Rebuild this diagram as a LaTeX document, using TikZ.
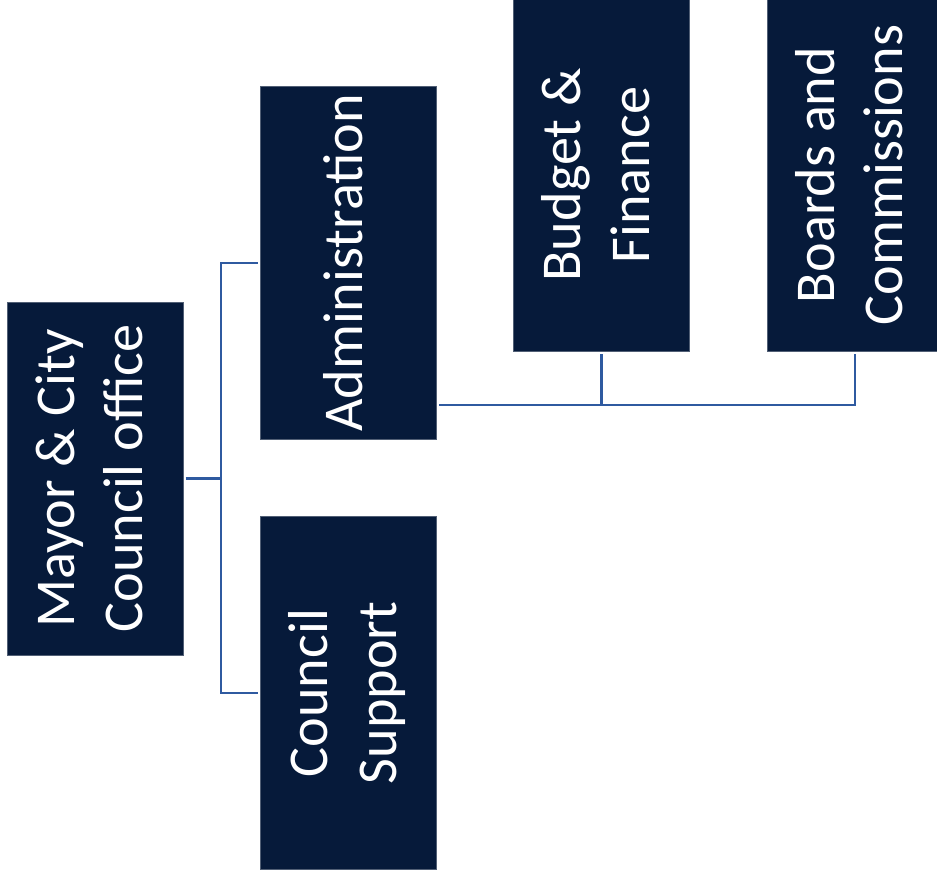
\documentclass[tikz,border=0pt]{standalone}
\usepackage{fontspec}
\setmainfont{Carlito}
\usepackage{tikz}
\definecolor{navy}{RGB}{6,26,58}
\definecolor{linkblue}{RGB}{47,90,160}
\tikzset{
  box/.style={fill=navy, draw=navy!70!white, line width=0.3pt, text=white,
    inner sep=0pt, outer sep=1.5pt, minimum width=3.52cm, minimum height=7.06cm},
  link/.style={draw=linkblue, line width=1.2pt}
}
\newcommand{\vtext}[1]{\rotatebox{90}{\fontsize{32}{39}\selectfont
  \begin{tabular}{@{}c@{}}#1\end{tabular}}}

\begin{document}
\begin{tikzpicture}[x=0.02cm, y=-0.02cm]
\useasboundingbox (0,0) rectangle (937,882);
\node[box] (mayor) at (95,478.5) {\vtext{Mayor \& City\\Council office}};
\node[box] (admin) at (348.5,263) {\vtext{Administration}};
\node[box] (support) at (348.5,693) {\vtext{Council\\Support}};
\node[box] (budget) at (601.5,175) {\vtext{Budget \&\\Finance}};
\node[box] (boards) at (855,175) {\vtext{Boards and\\Commissions}};
% connectors
\coordinate (j1) at (221,478.5);
\coordinate (j2) at (601,405);
\draw[link] (mayor.east) -- (j1);
\draw[link] (admin.west) -- (admin.west -| j1) -- (support.west -| j1) -- (support.west);
\draw[link] (admin.east |- j2) -- (boards.south |- j2) -- (boards.south);
\draw[link] (budget.south) -- (budget.south |- j2);
\end{tikzpicture}
\end{document}
